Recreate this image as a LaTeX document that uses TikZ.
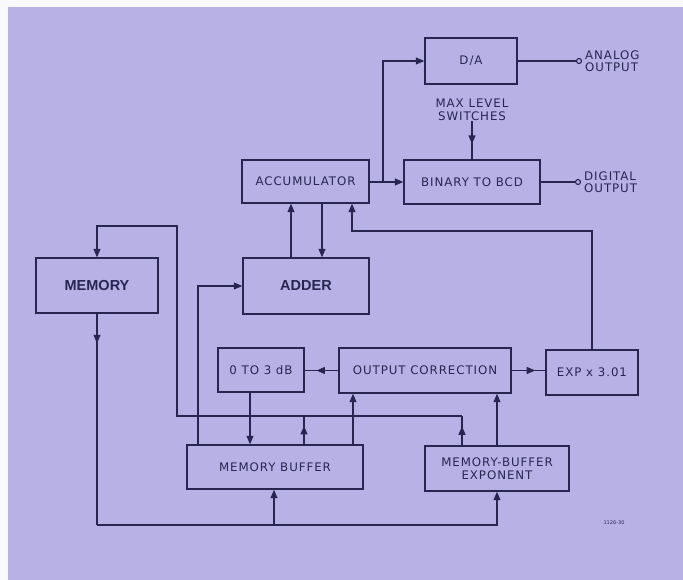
\documentclass[tikz,border=0pt]{standalone}
\usepackage{fontspec}
\setmainfont{DejaVu Sans}
\newfontfamily\labfont[LetterSpace=8]{DejaVu Sans}
\newfontfamily\bigfont{Liberation Sans}
\usetikzlibrary{arrows.meta,decorations.markings}
\definecolor{bg}{RGB}{184,177,230}
\definecolor{ink}{RGB}{40,38,80}
\tikzset{
  blk/.style={draw=ink,line width=1.4pt,rectangle,inner sep=0pt,text=ink,font=\labfont\fontsize{11.8}{13}\selectfont,align=center},
  bigblk/.style={blk,font=\bigfont\bfseries\fontsize{14.5}{16}\selectfont},
  lab/.style={text=ink,font=\labfont\fontsize{11.8}{12.5}\selectfont,align=left,inner sep=0pt},
  wire/.style={draw=ink,line width=1.2pt},
  arr/.style={wire,-{Triangle[length=8.5pt,width=7pt]}},
  midarr/.style={wire,postaction={decorate},decoration={markings,mark=at position #1 with {\arrow{Triangle[length=8.5pt,width=7pt]}}}},
  term/.style={circle,draw=ink,line width=1.1pt,fill=bg,inner sep=0pt,minimum size=5pt}
}
\begin{document}
\begin{tikzpicture}[x=1pt,y=-1pt]
\useasboundingbox (0,0) rectangle (683,580);
\fill[white!92!bg] (0,0) rectangle (683,580);
\fill[bg] (8,7) rectangle (683,580);
% blocks
\node[blk,minimum width=92pt,minimum height=46pt] (da) at (471,61) {D/A};
\node[blk,minimum width=127pt,minimum height=43pt] (acc) at (305.5,181.5) {ACCUMULATOR};
\node[blk,minimum width=136pt,minimum height=44pt] (bcd) at (472,182) {BINARY TO BCD};
\node[bigblk,minimum width=122pt,minimum height=55pt] (mem) at (97,285.5) {MEMORY};
\node[bigblk,minimum width=126pt,minimum height=56pt] (add) at (306,286) {ADDER};
\node[blk,minimum width=86pt,minimum height=44pt] (db3) at (261,370) {0 TO 3 dB};
\node[blk,minimum width=172pt,minimum height=45pt] (oc) at (425,370.5) {OUTPUT CORRECTION};
\node[blk,minimum width=92pt,minimum height=45pt] (exp) at (592,372.5) {EXP x 3.01};
\node[blk,minimum width=176pt,minimum height=44pt] (mb) at (275,467) {MEMORY BUFFER};
\node[blk,minimum width=144pt,minimum height=45pt,font=\labfont\fontsize{11.8}{12.5}\selectfont] (mbe) at (497,468.5) {MEMORY-BUFFER\\EXPONENT};
% labels and terminals
\node[lab,align=center] (mls) at (472,110) {MAX LEVEL\\SWITCHES};
\node[term] (ao) at (579,61) {};
\node[term] (do) at (578,182) {};
\node[lab,anchor=west] (aol) at (585,61) {ANALOG\\OUTPUT};
\node[lab,anchor=west] (dol) at (584,182) {DIGITAL\\OUTPUT};
\node[text=ink,font=\fontsize{5}{6}\selectfont,inner sep=0pt] (fig) at (614,523) {1126-30};
% helper coordinates
\coordinate (br) at (383,182);
\coordinate (x291) at (291,0);
\coordinate (x322) at (322,0);
\coordinate (fb) at (352,231);
\coordinate (l1) at (177,416);
\coordinate (l2) at (177,226);
\coordinate (x462) at (462,0);
\coordinate (x304) at (304,0);
\coordinate (bot) at (97,525);
\coordinate (x274) at (274,0);
\coordinate (x198) at (198,0);
\coordinate (x353) at (353,0);
\coordinate (x250) at (250,0);
% connectors
\draw[wire] (da.east) -- (ao.west);
\draw[wire] (bcd.east) -- (do.west);
\draw[arr] (acc.east |- br) -- (bcd.west);
\draw[arr] (br) |- (da.west);
\draw[midarr=0.6] (mls.south) -- (bcd.north);
\draw[arr] (add.north -| x291) -- (acc.south -| x291);
\draw[arr] (acc.south -| x322) -- (add.north -| x322);
\draw[arr] (exp.north) |- (fb) -- (acc.south -| fb);
\draw[midarr=0.65] (mbe.north -| x462) -- (x462 |- l1);
\draw[midarr=0.65] (mb.north -| x304) -- (x304 |- l1);
\draw[arr] (x462 |- l1) -- (l1) -- (l2) -| (mem.north);
\draw[midarr=0.14] (mem.south) -- (bot);
\draw[arr] (bot) -| (mbe.south);
\draw[arr] (x274 |- bot) -- (mb.south -| x274);
\draw[arr] (mb.north -| x198) |- (add.west);
\draw[arr] (mb.north -| x353) -- (oc.south -| x353);
\draw[arr] (mbe.north) -- (oc.south -| mbe.north);
\draw[arr] (db3.south -| x250) -- (mb.north -| x250);
\draw[midarr=0.65] (oc.west) -- (oc.west -| db3.east);
\draw[midarr=0.7] (oc.east) -- (oc.east -| exp.west);
\end{tikzpicture}
\end{document}
